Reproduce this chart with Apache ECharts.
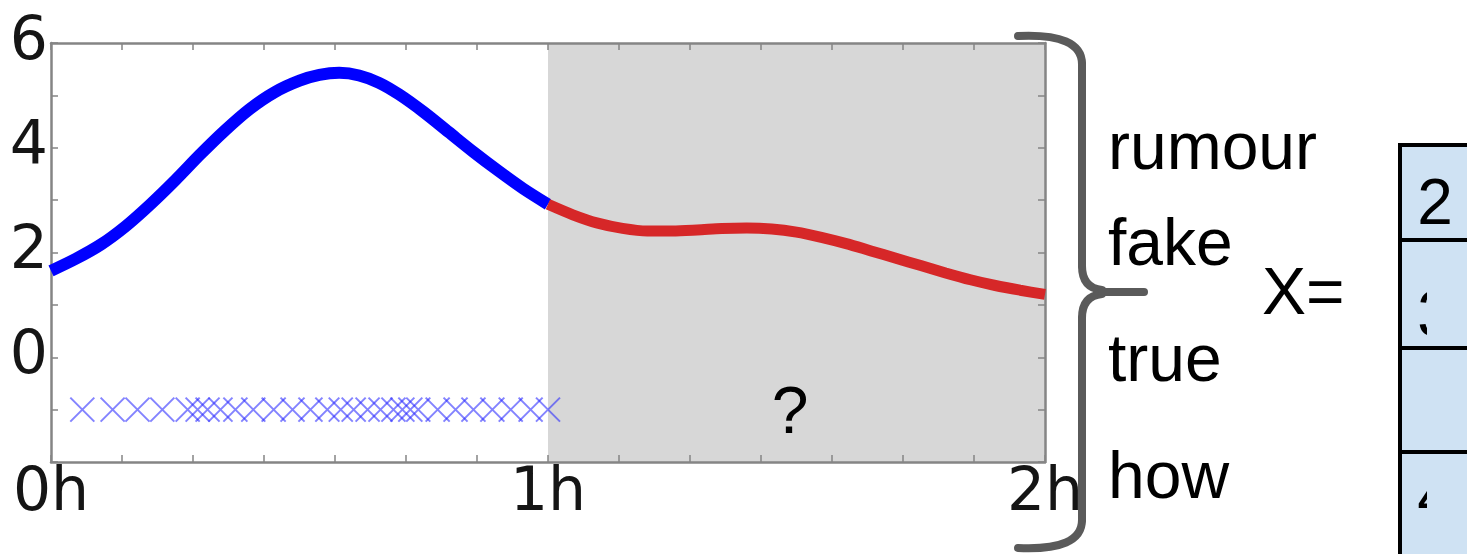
<!DOCTYPE html>
<html>
<head>
<meta charset="utf-8">
<script src="https://cdn.jsdelivr.net/npm/echarts@6/dist/echarts.min.js"></script>
<style>
  html, body { margin: 0; padding: 0; background: #ffffff; }
  #chart { width: 1467px; height: 554px; }
</style>
</head>
<body>
<div id="chart"></div>
<script>
// Observed signal over the first hour (blue) and the forecast for the second hour (red)
const observedHours = [0.00, 0.05, 0.10, 0.15, 0.20, 0.25, 0.30, 0.35, 0.40, 0.45, 0.50,
                       0.54, 0.58, 0.62, 0.66, 0.70, 0.75, 0.80, 0.85, 0.90, 0.95, 1.00];
const observedScore = [1.65, 1.88, 2.15, 2.50, 2.92, 3.38, 3.87, 4.33, 4.74, 5.06, 5.28,
                       5.39, 5.43, 5.38, 5.24, 5.02, 4.68, 4.30, 3.92, 3.56, 3.22, 2.92];
const forecastHours = [1.00, 1.05, 1.10, 1.15, 1.20, 1.25, 1.30, 1.35, 1.40, 1.45, 1.50,
                       1.55, 1.60, 1.65, 1.70, 1.75, 1.80, 1.85, 1.90, 1.95, 2.00];
const forecastScore = [2.92, 2.72, 2.56, 2.46, 2.41, 2.41, 2.43, 2.46, 2.47, 2.45, 2.39,
                       2.29, 2.17, 2.03, 1.89, 1.75, 1.61, 1.48, 1.37, 1.28, 1.20];

// Times of individual posts, shown as crosses along a baseline
const postHours = [0.063, 0.124, 0.174, 0.224, 0.275, 0.295, 0.315, 0.341, 0.371, 0.407,
                   0.448, 0.486, 0.522, 0.556, 0.583, 0.609, 0.637, 0.663, 0.689, 0.707,
                   0.723, 0.739, 0.778, 0.814, 0.850, 0.888, 0.925, 0.965, 1.000];
const postLevel = -1;

// Unknown window
const unknownWindow = [1, 2];

// Axis labels
const xTickLabels = { 0: '0h', 1: '1h', 2: '2h' };
const yTickLabels = [0, 2, 4, 6];

// Text beside the plot
const sideWords = ['rumour', 'fake', 'true', 'how'];
const cellDigits = ['2', '3', '', '4'];

const FRAME = '#858585';
const TICK_FONT = '"DejaVu Sans", sans-serif';
const TEXT_FONT = '"Liberation Sans", Arial, sans-serif';

function xAxisCfg(position, labels) {
  return {
    type: 'value', position: position, min: 0, max: 2, interval: 1, z: 2,
    axisLine: { show: true, onZero: false, lineStyle: { color: FRAME, width: 2.5 } },
    axisTick: { show: true, inside: true, length: 7, lineStyle: { color: FRAME, width: 1.5 } },
    minorTick: { show: true, splitNumber: 7, length: 7, lineStyle: { color: FRAME, width: 1.5 } },
    splitLine: { show: false },
    axisLabel: {
      show: labels, margin: 2, color: '#151515', fontFamily: TICK_FONT, fontSize: 60,
      verticalAlign: 'top',
      formatter: v => xTickLabels[v] || ''
    }
  };
}

function yAxisCfg(position, labels) {
  return {
    type: 'value', position: position, min: -2, max: 6, interval: 2, z: 2,
    axisLine: { show: true, onZero: false, lineStyle: { color: FRAME, width: 2.5 } },
    axisTick: { show: true, inside: true, length: 7, lineStyle: { color: FRAME, width: 1.5 } },
    minorTick: { show: true, splitNumber: 2, length: 7, lineStyle: { color: FRAME, width: 1.5 } },
    splitLine: { show: false },
    axisLabel: {
      show: labels, margin: 3, color: '#151515', fontFamily: TICK_FONT, fontSize: 60,
      padding: [0, 0, 10, 0],
      formatter: v => (yTickLabels.indexOf(v) >= 0 ? String(v) : '')
    }
  };
}

const observedData = observedHours.map((h, i) => [h, observedScore[i]]);
const forecastData = forecastHours.map((h, i) => [h, forecastScore[i]]);
const postData = postHours.map(h => [h, postLevel]);

// Words, the "X=" label and the vector cells to the right of the plot
const wordBaselineY = [151, 247, 363, 480];
const graphics = [];
sideWords.forEach((w, i) => {
  graphics.push({
    type: 'text', x: 1108, y: wordBaselineY[i], z: 10,
    style: { text: w, font: '66px ' + TEXT_FONT, fill: '#000', align: 'left', verticalAlign: 'middle' }
  });
});
graphics.push({
  type: 'text', x: 1262, y: 296, z: 10,
  style: { text: 'X=', font: '66px ' + TEXT_FONT, fill: '#000', align: 'left', verticalAlign: 'middle' }
});
graphics.push({
  type: 'text', x: 790, y: 415, z: 10,
  style: { text: '?', font: '66px ' + TEXT_FONT, fill: '#000', align: 'center', verticalAlign: 'middle' }
});

// Curly brace grouping the words
const braceStyle = { fill: null, stroke: '#5a5a5a', lineWidth: 8, lineCap: 'round' };
const braceCurves = [
  { x1: 1018, y1: 36, cpx1: 1082, cpy1: 33, x2: 1082, y2: 64 },
  { x1: 1082, y1: 266, cpx1: 1082, cpy1: 288, x2: 1102, y2: 290 },
  { x1: 1102, y1: 294, cpx1: 1082, cpy1: 296, x2: 1082, y2: 318 },
  { x1: 1082, y1: 520, cpx1: 1082, cpy1: 551, x2: 1018, y2: 548 }
];
const braceLines = [
  { x1: 1082, y1: 64, x2: 1082, y2: 266 },
  { x1: 1102, y1: 292, x2: 1144, y2: 292 },
  { x1: 1082, y1: 318, x2: 1082, y2: 520 }
];
braceCurves.forEach(s => graphics.push({ type: 'bezierCurve', z: 10, shape: s, style: braceStyle }));
braceLines.forEach(s => graphics.push({ type: 'line', z: 10, shape: s, style: braceStyle }));

// Vector cells
const cellTops = [145, 240, 348, 452];
const cellBottoms = [240, 348, 452, 580];
const cellBaseCentre = [206, 318, 0, 500];
cellTops.forEach((top, i) => {
  graphics.push({
    type: 'rect', z: 5,
    shape: { x: 1400, y: top, width: 120, height: cellBottoms[i] - top },
    style: { fill: '#cfe2f3', stroke: '#000', lineWidth: 4 }
  });
  if (cellDigits[i]) {
    graphics.push({
      type: 'text', x: 1435, y: cellBaseCentre[i], z: 6,
      style: { text: cellDigits[i], font: '64px ' + TEXT_FONT, fill: '#000', align: 'center', verticalAlign: 'middle' }
    });
  }
  if (i > 0) {
    // the rest of the lower entries is hidden behind the cell fill
    graphics.push({
      type: 'rect', z: 7,
      shape: { x: 1427, y: top + 2, width: 60, height: cellBottoms[i] - top - 4 },
      style: { fill: '#cfe2f3' }
    });
  }
});

const chart = echarts.init(document.getElementById('chart'), null, { renderer: 'canvas' });
chart.setOption({
  animation: false,
  backgroundColor: '#ffffff',
  grid: { left: 51, right: 422, top: 43, bottom: 92, containLabel: false },
  xAxis: [xAxisCfg('bottom', true), xAxisCfg('top', false)],
  yAxis: [yAxisCfg('left', true), yAxisCfg('right', false)],
  series: [
    {
      type: 'line', name: 'unknown', data: [], z: 1, silent: true,
      markArea: {
        silent: true,
        itemStyle: { color: '#d7d7d7', opacity: 1 },
        data: [[{ xAxis: unknownWindow[0] }, { xAxis: unknownWindow[1] }]]
      }
    },
    {
      type: 'scatter', name: 'posts', data: postData, z: 3,
      symbol: 'path://M0,0L20,20M20,0L0,20', symbolSize: 24,
      itemStyle: { color: 'rgba(0,0,0,0)', borderColor: 'rgba(40,40,255,0.72)', borderWidth: 2 }
    },
    {
      type: 'line', name: 'observed', data: observedData, z: 4,
      smooth: 0.3, showSymbol: false,
      lineStyle: { color: '#0000ff', width: 12 }
    },
    {
      type: 'line', name: 'forecast', data: forecastData, z: 4,
      smooth: 0.3, showSymbol: false,
      lineStyle: { color: '#d62728', width: 11 }
    }
  ],
  graphic: graphics
});
</script>
</body>
</html>
